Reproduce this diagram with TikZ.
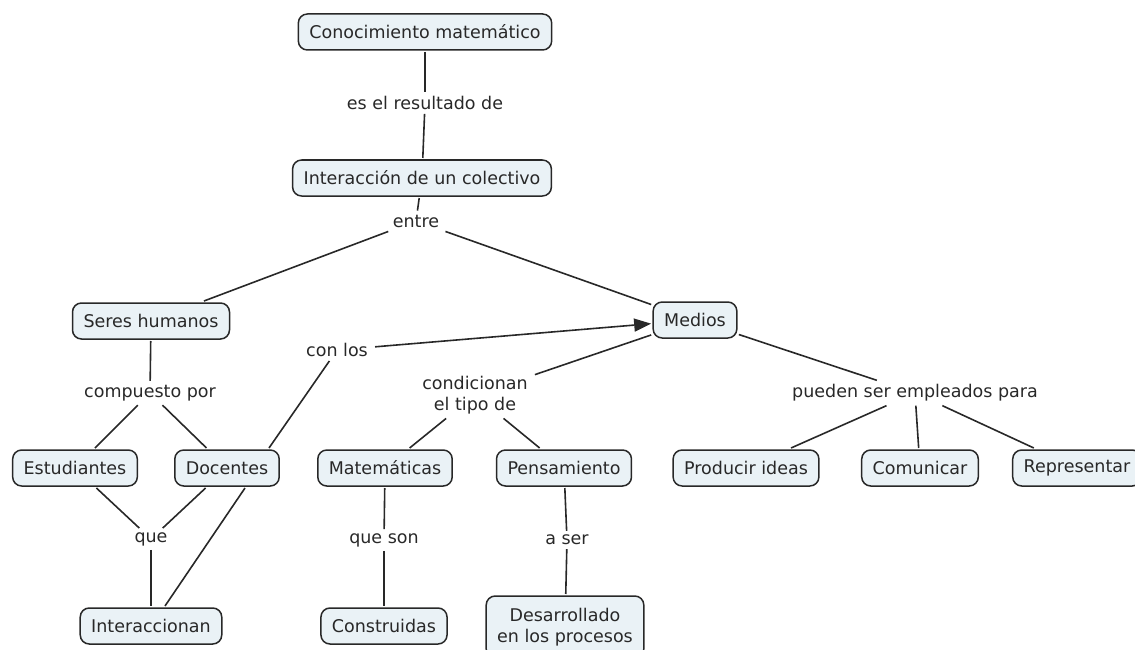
\documentclass[tikz,border=0pt]{standalone}
\usepackage{fontspec}
\setmainfont{DejaVu Sans}
\usetikzlibrary{arrows.meta}
\definecolor{boxfill}{RGB}{234,242,246}
\definecolor{ink}{RGB}{40,40,40}

\begin{document}
\begin{tikzpicture}[x=1pt, y=-1pt,
    font=\fontsize{17.5}{21.5}\selectfont, text=ink,
    concept/.style={draw=ink, line width=1.5pt, fill=boxfill, rounded corners=9pt,
      minimum height=36pt, inner xsep=11pt, inner ysep=4pt, outer sep=2pt},
    link/.style={inner xsep=7pt, inner ysep=4pt},
    conn/.style={draw=ink, line width=1.6pt}]
      \useasboundingbox (0, 0) rectangle (1135, 650);

      \node[concept] (conoc) at (425, 32) {Conocimiento matemático};
      \node[link] (resultado) at (425, 103) {es el resultado de};
      \node[concept] (colectivo) at (422, 178) {Interacción de un colectivo};
      \node[link] (entre) at (416, 221) {entre};

      \node[concept] (seres) at (151, 321) {Seres humanos};
      \node[concept] (medios) at (695, 320) {Medios};

      \node[link] (compuesto) at (150, 393) {compuesto por};
      \node[concept] (estud) at (75, 468) {Estudiantes};
      \node[concept] (docentes) at (227, 468) {Docentes};
      \node[link] (conlos) at (337, 350) {con los};
      \node[link] (que) at (151, 539) {que};
      \node[concept] (interacc) at (151, 626) {Interaccionan};

      \node[link, align=center] (condic) at (475, 395) {condicionan\\el tipo de};
      \node[concept] (matem) at (385, 468) {Matemáticas};
      \node[concept] (pensam) at (564, 468) {Pensamiento};
      \node[link] (queson) at (384, 540) {que son};
      \node[concept] (constr) at (384, 626) {Construidas};
      \node[link] (aser) at (567, 540) {a ser};
      \node[concept, align=center, minimum height=62pt] (desarr) at (565, 627) {Desarrollado\\en los procesos};

      \node[link] (pueden) at (915, 393) {pueden ser empleados para};
      \node[concept] (producir) at (746, 468) {Producir ideas};
      \node[concept] (comunicar) at (920, 468) {Comunicar};
      \node[concept] (represent) at (1077, 468) {Representar};

      \draw[conn] (conoc) -- (resultado);
      \draw[conn] (resultado) -- (colectivo);
      \draw[conn] (colectivo) -- (entre);
      \draw[conn] (entre) -- (seres);
      \draw[conn] (entre) -- (medios);

      \draw[conn] (seres) -- (compuesto);
      \draw[conn] (compuesto) -- (estud);
      \draw[conn] (compuesto) -- (docentes);
      \draw[conn] ([xshift=42pt]docentes.north) -- (conlos);
      \draw[conn, -{Triangle[length=17pt, width=13pt]}] (conlos) -- (medios);
      \draw[conn] (estud) -- (que);
      \draw[conn] (docentes) -- (que);
      \draw[conn] (que) -- (interacc);
      \draw[conn] ([xshift=18pt]docentes.south) -- ([xshift=14pt]interacc.north);

      \draw[conn] (medios) -- (condic);
      \draw[conn] (condic) -- (matem);
      \draw[conn] (condic) -- (pensam);
      \draw[conn] (matem) -- (queson);
      \draw[conn] (queson) -- (constr);
      \draw[conn] (pensam) -- (aser);
      \draw[conn] (aser) -- (desarr);

      \draw[conn] (medios) -- (pueden);
      \draw[conn] (pueden) -- (producir);
      \draw[conn] (pueden) -- (comunicar);
      \draw[conn] (pueden) -- (represent);
    \end{tikzpicture}
\end{document}
